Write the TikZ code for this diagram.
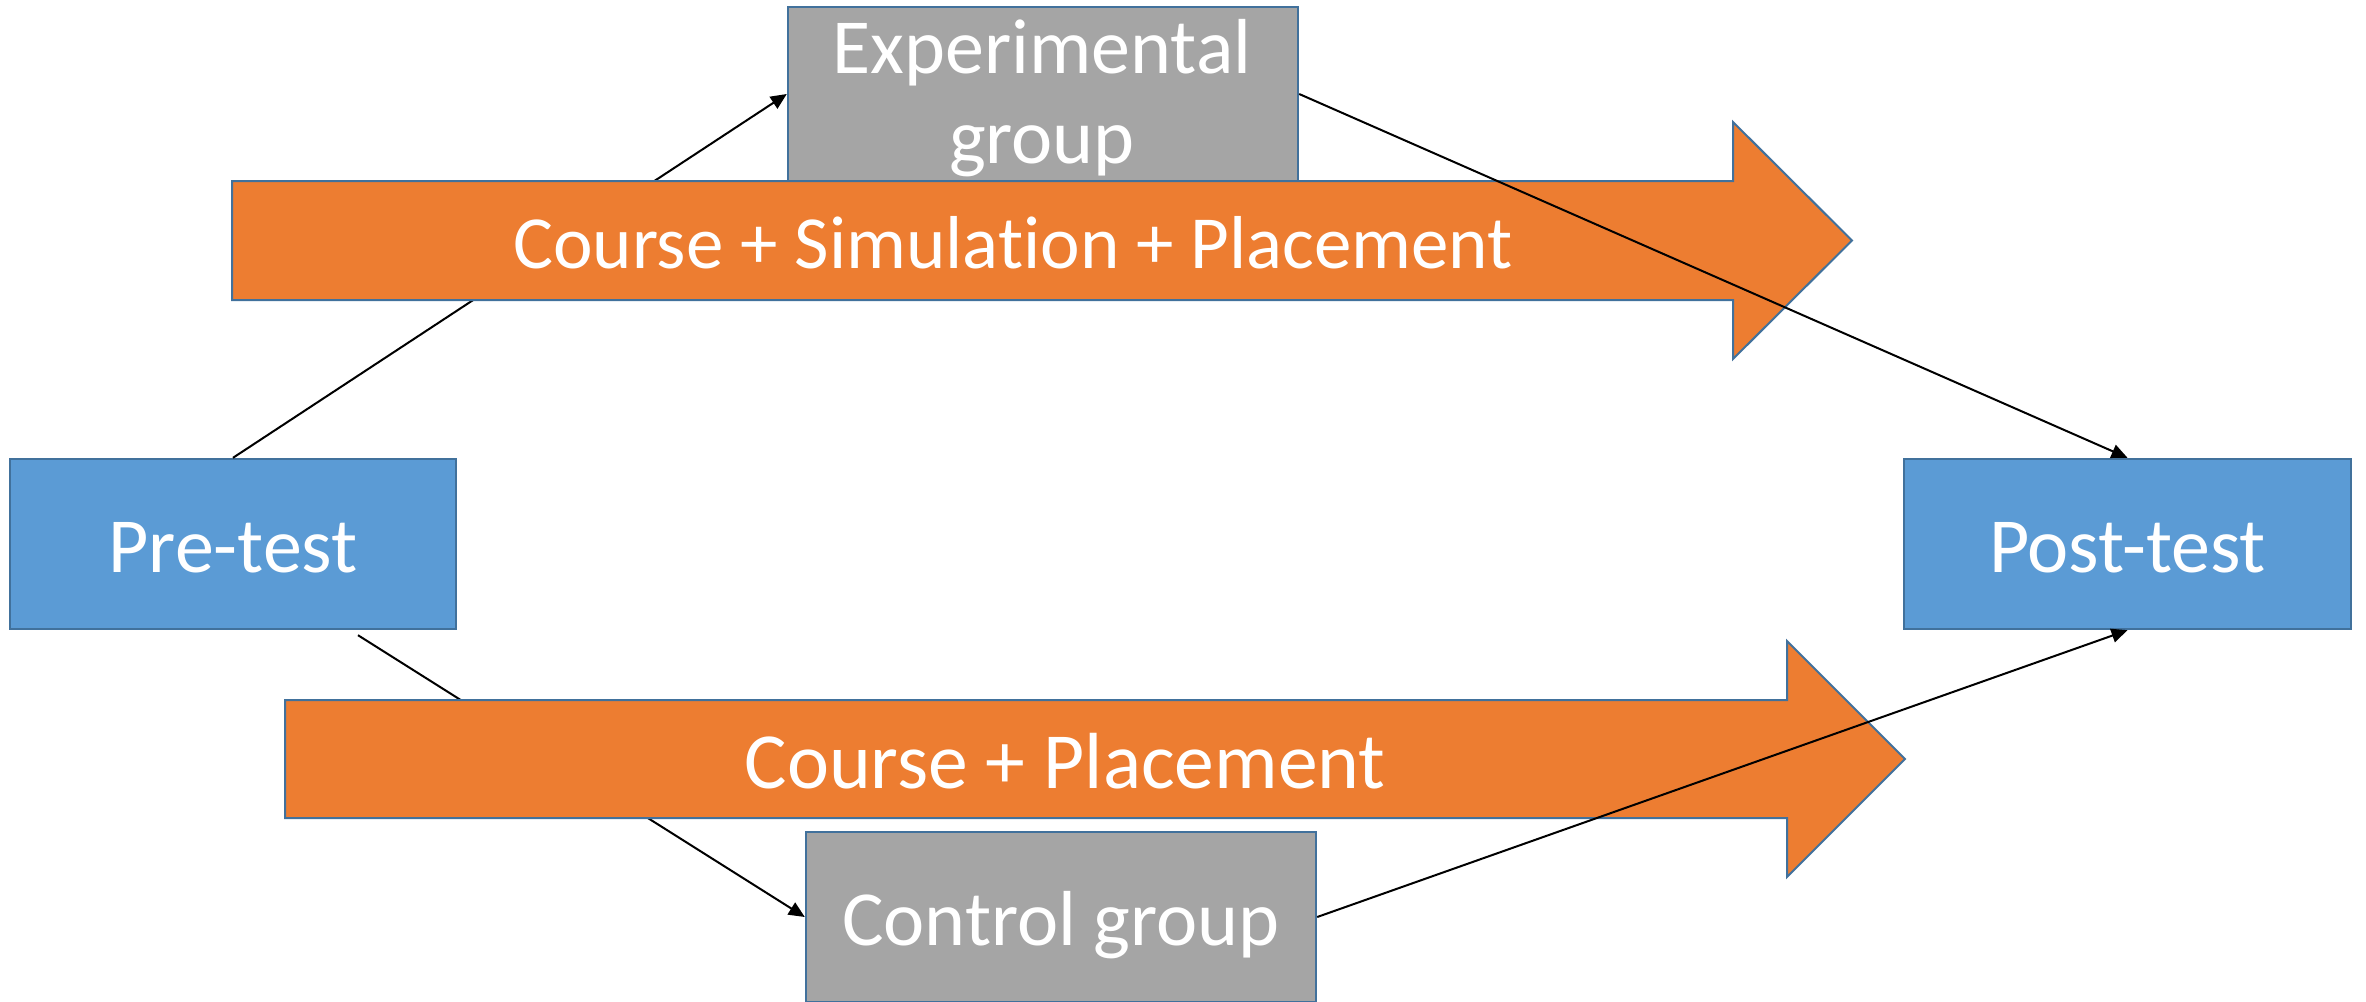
\documentclass[tikz,border=0pt]{standalone}
\usepackage{fontspec}
\setmainfont{Carlito}[Ligatures=NoCommon]
\usetikzlibrary{arrows.meta,calc}
\definecolor{boxblue}{HTML}{5B9BD5}
\definecolor{edgeblue}{HTML}{41719C}
\definecolor{boxgray}{HTML}{A5A5A5}
\definecolor{arrorange}{HTML}{ED7D31}
\begin{document}
\begin{tikzpicture}[x=0.5pt,y=-0.5pt,
  bigfont/.style={font=\fontsize{39}{46}\selectfont},
  boxnode/.style={draw=edgeblue,line width=1.2pt,inner sep=0pt,text=white,bigfont,
    text height=28pt,text depth=0pt},
  testbox/.style={boxnode,fill=boxblue,minimum width=223pt,minimum height=85pt},
  groupbox/.style={boxnode,fill=boxgray,minimum width=255pt},
  wtext/.style={text=white,bigfont,inner sep=0pt,anchor=base},
  conn/.style={draw=black,line width=1pt,-{Triangle[length=8pt,width=7pt]}},
  bigarrow/.style={fill=arrorange,draw=edgeblue,line width=1pt,line join=miter}
]
\useasboundingbox (0,0) rectangle (2366,1001);

% boxes
\node[testbox] (pre) at (233,544) {Pre-test};
\node[testbox,minimum width=223.5pt] (post) at (2127.5,544) {Post-test};
\node[groupbox,minimum height=87pt] (exp) at (1043,94) {};
\node[wtext] (expa) at (1042,73) {Experimental};
\node[wtext] (expb) at (1042,163) {group};
\node[groupbox,minimum height=85pt] (ctrl) at (1061,917) {Control group};

% connectors hidden behind the big arrows
\draw[conn] (pre.north) -- (exp.west);
\coordinate (prelow) at ($(pre.south)+(125,5)$);
\draw[conn] (prelow) -- (ctrl.west);

% big orange arrows
\draw[bigarrow] (232,181) -- (1733,181) -- (1733,122) -- (1852,240.5) -- (1733,359) -- (1733,300) -- (232,300) -- cycle;
\node[wtext,font=\fontsize{37.5}{44}\selectfont] (arrowa) at (1013,268) {Course + Simulation + Placement};
\draw[bigarrow] (285,700) -- (1787,700) -- (1787,641) -- (1905,759) -- (1787,877) -- (1787,818) -- (285,818) -- cycle;
\node[wtext,font=\fontsize{39.8}{46}\selectfont] (arrowb) at (1065,788) {Course + Placement};

% connectors over the big arrows
\draw[conn] (exp.east) -- (post.north);
\draw[conn] (ctrl.east) -- (post.south);
\end{tikzpicture}
\end{document}
